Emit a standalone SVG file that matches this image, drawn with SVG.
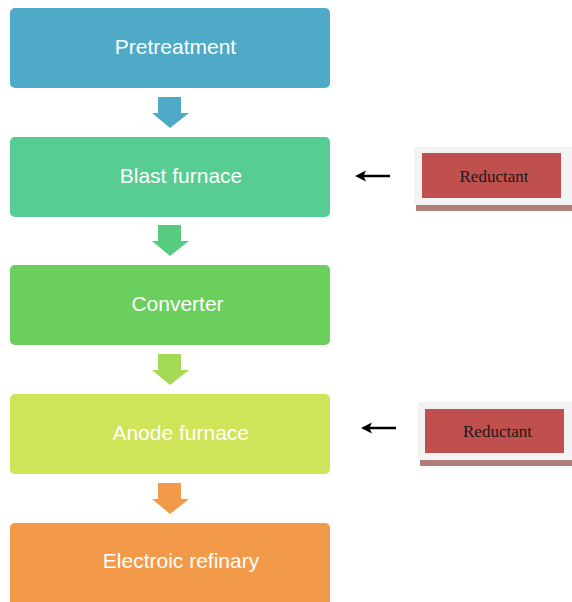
<svg xmlns="http://www.w3.org/2000/svg" width="572" height="602" viewBox="0 0 572 602">
<style>
.lbl{font-family:"Liberation Sans",Arial,sans-serif;font-size:21px;fill:#fff;text-anchor:middle}
.red{font-family:"Liberation Serif","Times New Roman",serif;font-size:17px;fill:#1a1a1a;text-anchor:middle}
.frame{fill:#f3f3f3}
.shadow{fill:#b07d79}
.rbox{fill:#c0504d}
</style>
<defs>
<polygon id="down" points="-12,0 11,0 11,16 19,16 0,31 -18,16 -12,16"/>
<polygon id="left" points="0,0 11,-5.5 9,-1.3 35,-1.3 35,1.3 9,1.3 11,5.5" fill="#000"/>
</defs>
<rect width="572" height="602" fill="#fff"/>
<g id="pretreatment"><rect x="10" y="8" width="320" height="80" rx="5" fill="#4eaac6"/><text class="lbl" x="175.5" y="54">Pretreatment</text></g>
<g id="blast"><rect x="10" y="137" width="320" height="80" rx="5" fill="#57cc93"/><text class="lbl" x="181" y="183">Blast furnace</text></g>
<g id="converter"><rect x="10" y="265" width="320" height="80" rx="5" fill="#6bcf5e"/><text class="lbl" x="177.5" y="311">Converter</text></g>
<g id="anode"><rect x="10" y="394" width="320" height="80" rx="5" fill="#cfe459"/><text class="lbl" x="180.7" y="440">Anode furnace</text></g>
<g id="refinery"><rect x="10" y="523" width="320" height="84" rx="5" fill="#f39a4a"/><text class="lbl" x="181" y="568">Electroic refinary</text></g>
<g id="reductant1"><rect class="shadow" x="416" y="151" width="160" height="60"/><rect class="frame" x="414" y="147" width="160" height="58"/><rect class="rbox" x="422" y="153" width="139" height="45"/><text class="red" x="494" y="182">Reductant</text></g>
<g id="reductant2"><rect class="shadow" x="420" y="406" width="160" height="60"/><rect class="frame" x="418" y="402" width="160" height="58"/><rect class="rbox" x="425" y="409" width="139" height="44"/><text class="red" x="497.5" y="437">Reductant</text></g>
<g id="connectors">
<use href="#down" x="170" y="97" fill="#4eaac6"/>
<use href="#down" x="170" y="225" fill="#57cc80"/>
<use href="#down" x="170" y="354" fill="#a3d954"/>
<use href="#down" x="170" y="483" fill="#f39a4a"/>
<use href="#left" x="355" y="176"/>
<use href="#left" x="361" y="428"/>
</g>
</svg>
